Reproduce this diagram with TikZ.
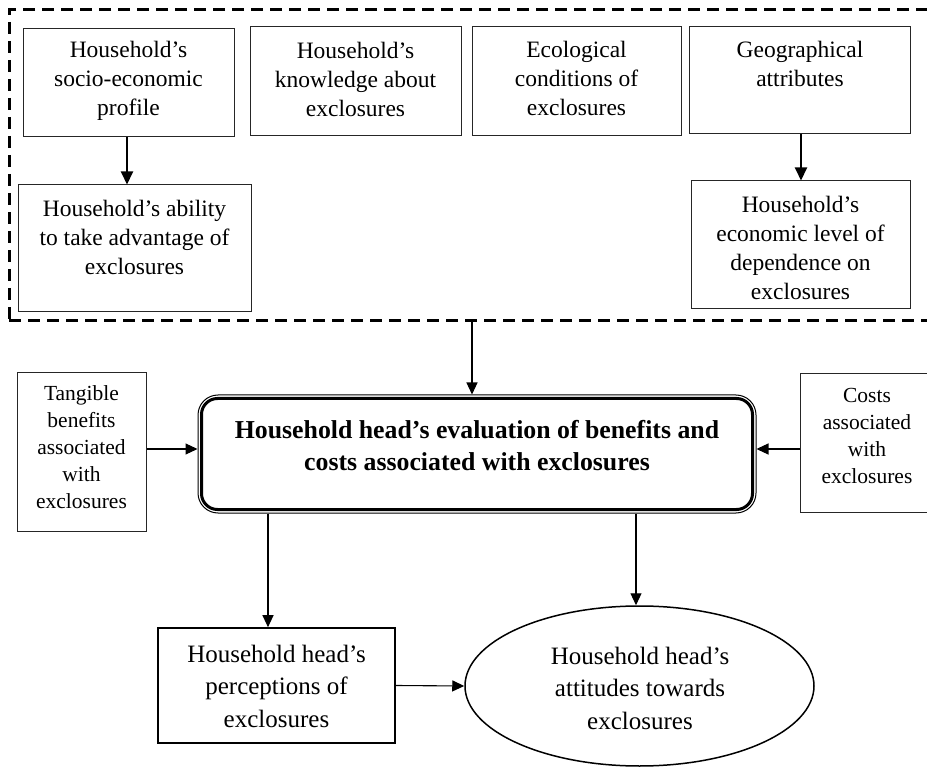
\documentclass[tikz,border=0pt]{standalone}
\usepackage{fontspec}
\setmainfont{Liberation Serif}
\usetikzlibrary{arrows.meta,shapes.geometric}
\begin{document}
\begin{tikzpicture}[x=1pt,y=-1pt,
  box/.style={draw=black!85, line width=1pt, rectangle, inner sep=0pt},
  txt/.style={align=center, inner sep=0pt, font=\fontsize{23.5}{29}\selectfont},
  stxt/.style={align=center, inner sep=0pt, font=\fontsize{21.5}{27}\selectfont},
  btxt/.style={align=center, inner sep=0pt, font=\fontsize{25.8}{32}\selectfont\bfseries},
  ltxt/.style={align=center, inner sep=0pt, font=\fontsize{25}{32.5}\selectfont},
  arr/.style={-{Triangle[length=12pt,width=11pt]}, line width=1.1pt},
  thickarr/.style={-{Triangle[length=13pt,width=12pt]}, line width=2pt},
  framebox/.style={draw, line width=3pt, dash pattern=on 12pt off 7pt, rectangle, inner sep=0pt},
]
\useasboundingbox (0,0) rectangle (927,767);
\clip (0,0) rectangle (927,767);
\fill[white] (0,0) rectangle (927,767);

% dashed frame
\node[framebox, minimum width=931pt, minimum height=311pt] (frame) at (474.5,165.5) {};

% top boxes
\node[box, minimum width=211pt, minimum height=108pt] (b1) at (128.5,83) {};
\node[txt] (t1) at (128.5,81) {Household’s\\socio-economic\\profile};
\node[box, minimum width=211pt, minimum height=109pt] (b2) at (355.5,81.5) {};
\node[txt] (t2) at (355.5,79) {Household’s\\knowledge about\\exclosures};
\node[box, minimum width=209pt, minimum height=109pt] (b3) at (576.5,81.5) {};
\node[txt] (t3) at (576.5,78) {Ecological\\conditions of\\exclosures};
\node[box, minimum width=221pt, minimum height=107pt] (b4) at (799.5,80.5) {};
\node[txt] (t4) at (800,64) {Geographical\\attributes};
\node[box, minimum width=233pt, minimum height=127pt] (b5) at (134.5,248.5) {};
\node[txt] (t5) at (134.5,237) {Household’s ability\\to take advantage of\\exclosures};
\node[box, minimum width=219pt, minimum height=128pt] (b6) at (800.5,245) {};
\node[txt] (t6) at (800.5,247.5) {Household’s\\economic level of\\dependence on\\exclosures};

% side boxes
\node[box, minimum width=129pt, minimum height=158pt] (tang) at (81.5,452) {};
\node[stxt] (tt) at (81.5,447) {Tangible\\benefits\\associated\\with\\exclosures};
\node[box, minimum width=134pt, minimum height=138pt] (costs) at (867,443) {};
\node[stxt] (tc) at (867,435.5) {Costs\\associated\\with\\exclosures};

% main box
\node[draw, line width=1pt, rounded corners=20pt, rectangle, minimum width=558pt, minimum height=118pt, inner sep=0pt] (main) at (477,454) {};
\draw[line width=3pt, rounded corners=16pt] ([shift={(4pt,-4pt)}]main.north west) rectangle ([shift={(-4pt,4pt)}]main.south east);
\node[btxt] (tm) at (477,446) {Household head’s evaluation of benefits and\\costs associated with exclosures};

% bottom
\node[box, line width=1.6pt, draw=black, minimum width=237pt, minimum height=115pt] (perc) at (276.5,685.5) {};
\node[ltxt] (tp) at (276.5,686) {Household head’s\\perceptions of\\exclosures};
\node[draw, ellipse, line width=1.5pt, minimum width=349pt, minimum height=160pt, inner sep=0pt] (ell) at (639.5,686) {};
\node[ltxt] (te) at (640,688) {Household head’s\\attitudes towards\\exclosures};

% connectors
\draw[thickarr] (127,0 |- b1.south) -- (127,0 |- b5.north);
\draw[thickarr] (801,0 |- b4.south) -- (801,0 |- b6.north);
\draw[arr] (472,0 |- frame.south) -- (472,0 |- main.north);
\draw[arr] ([yshift=3pt]tang.east) -- ([yshift=3pt]tang.east -| main.west);
\draw[arr] ([yshift=-6pt]costs.west) -- ([yshift=-6pt]costs.west -| main.east);
\draw[arr] (268,0 |- main.south) -- (268,0 |- perc.north);
\draw[arr] (636,0 |- main.south) -- (636,0 |- ell.north);
\draw[arr] (perc.east) -- (ell.west);
\end{tikzpicture}
\end{document}
